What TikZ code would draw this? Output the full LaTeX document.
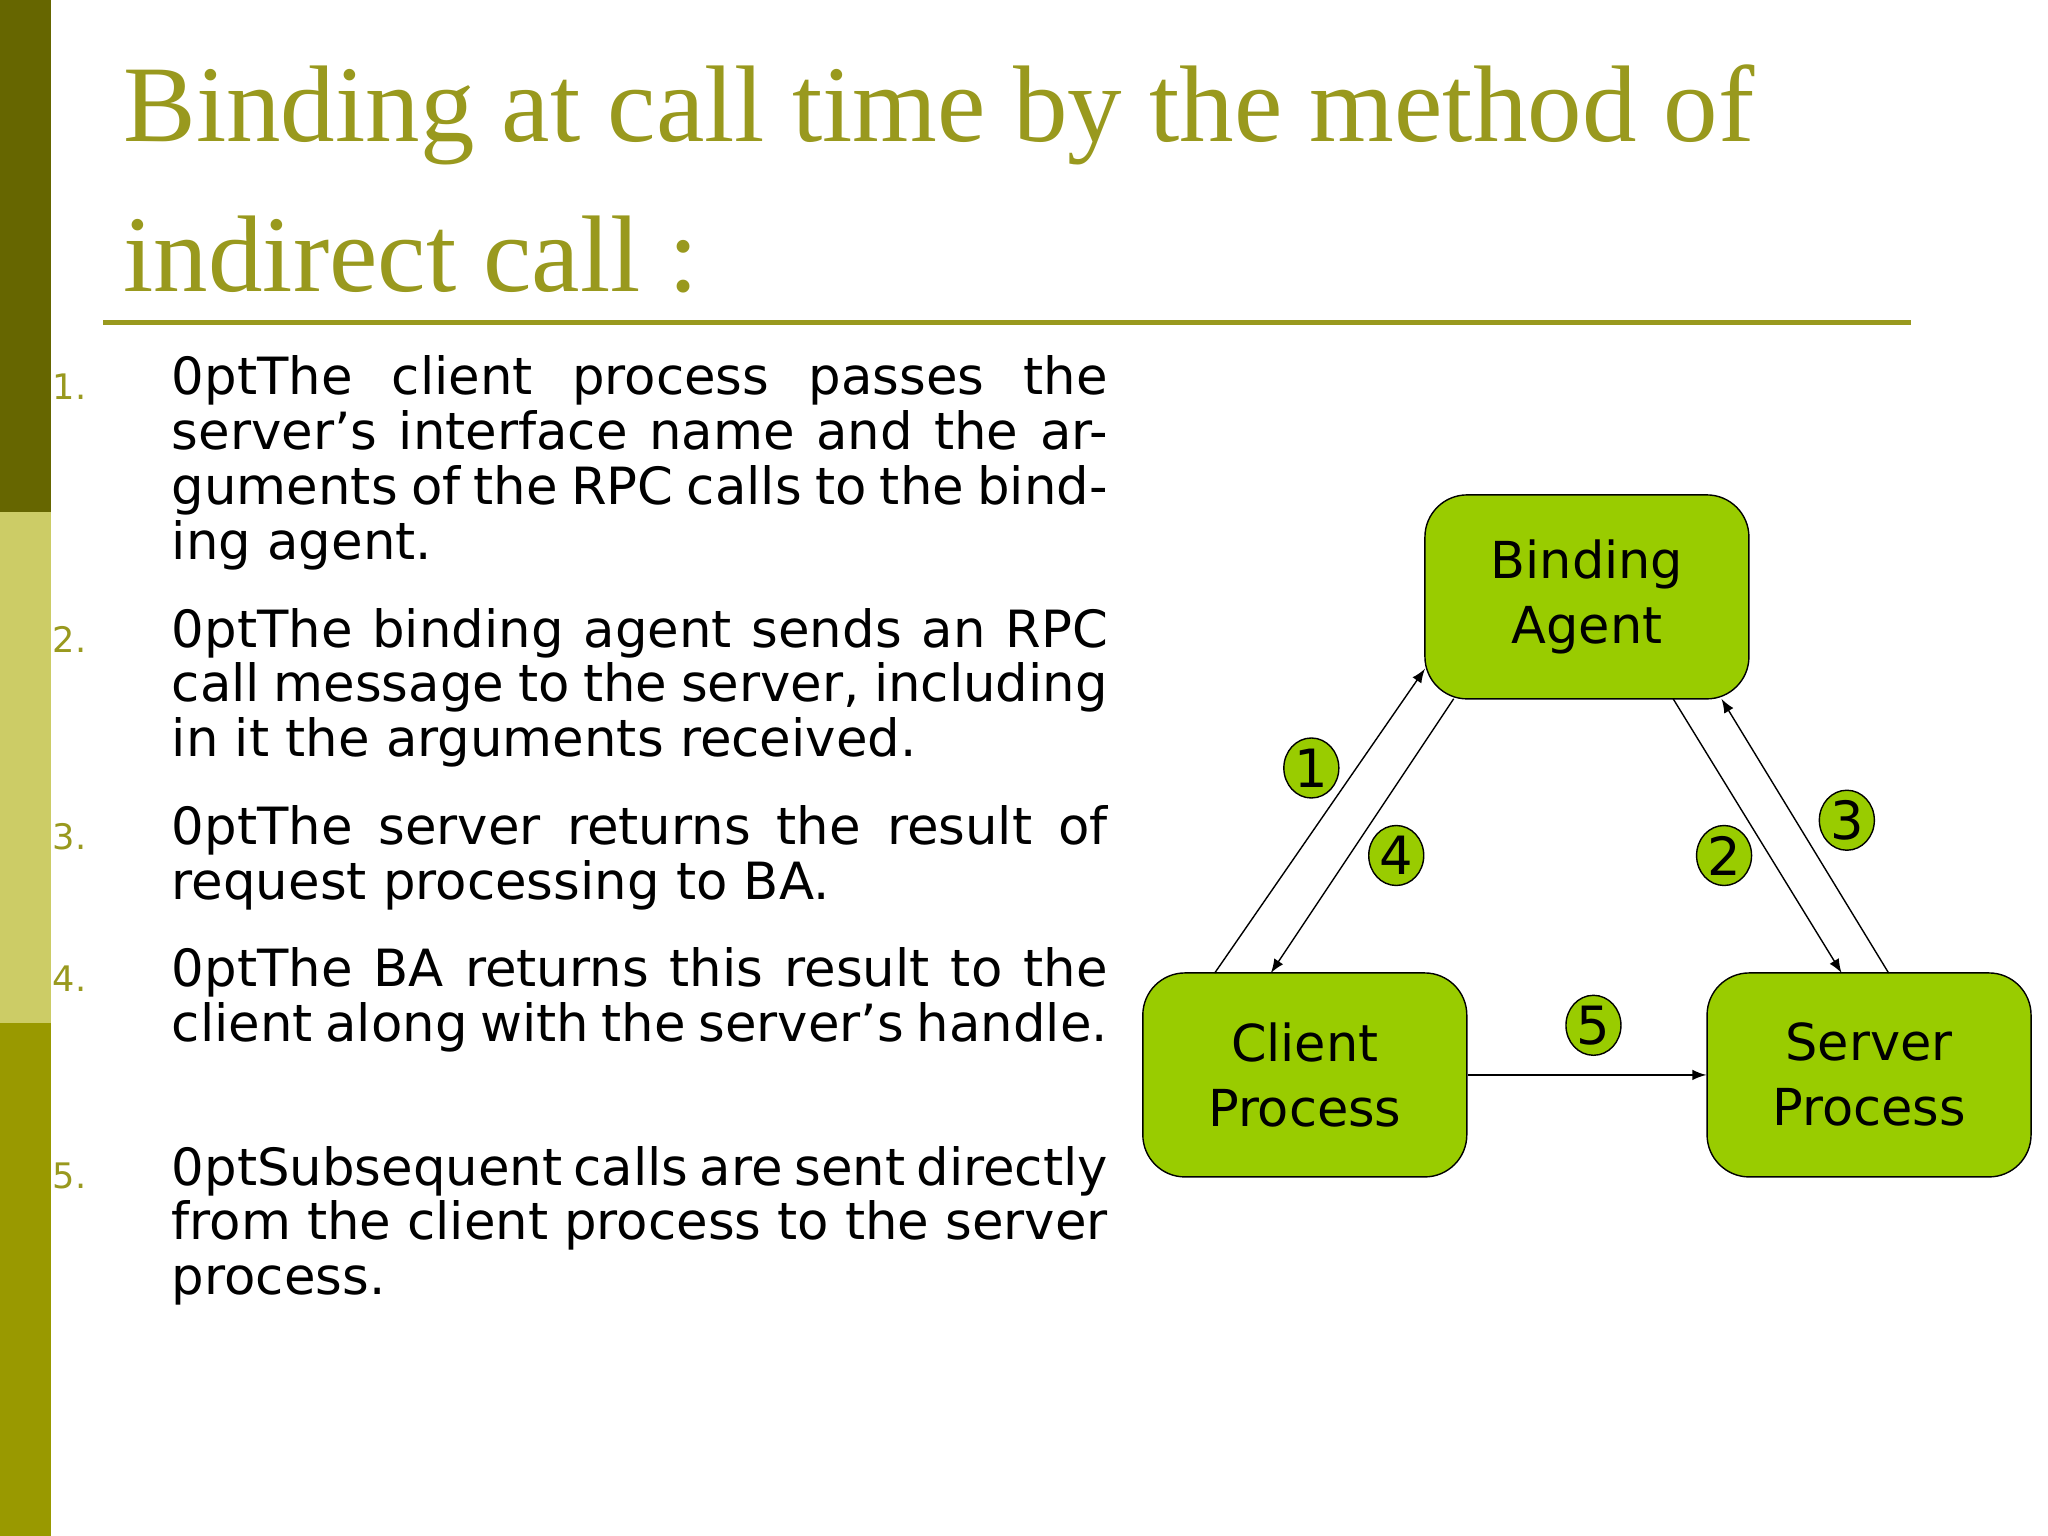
\documentclass[tikz,border=0pt]{standalone}
\usepackage{fontspec}
\usetikzlibrary{shapes.geometric}
\setmainfont{DejaVu Sans}
\newfontfamily\titlefont{Liberation Serif}
\begin{document}
\begin{tikzpicture}[x=0.01306cm,y=-0.01306cm,
  box/.style={draw,fill=boxgreen,rounded corners=12pt,minimum width=3.24cm,minimum height=2.04cm,align=center,font=\fontsize{14.5}{18.5}\selectfont},
  num/.style={draw,fill=boxgreen,ellipse,minimum width=0.55cm,minimum height=0.6cm,inner sep=0pt,font=\fontsize{15}{18}\selectfont},
  item/.style={anchor=north west,text width=9.36cm,inner sep=0pt,align=justify,font=\fontsize{14.6}{15.6}\selectfont\hyphenpenalty=10000\exhyphenpenalty=10000\emergencystretch=3cm},
  inum/.style={anchor=north west,inner sep=0pt,text=titlecol,font=\fontsize{10}{12}\selectfont},
  arr/.style={-latex}]
\definecolor{boxgreen}{RGB}{153,204,0}
\definecolor{titlecol}{RGB}{153,153,30}
\useasboundingbox (0,0) rectangle (1568,1176);
\fill[white] (0,0) rectangle (1568,1176);
\fill[fill={rgb,255:red,102;green,102;blue,0}] (0,0) rectangle (39,392);
\fill[fill={rgb,255:red,204;green,204;blue,102}] (0,392) rectangle (39,783);
\fill[fill={rgb,255:red,153;green,153;blue,0}] (0,783) rectangle (39,1176);
\node[anchor=west,text=titlecol,inner sep=0pt,font=\titlefont\fontsize{31}{38}\selectfont] (t1) at (94,88) {Binding at call time by the method of};
\node[anchor=west,text=titlecol,inner sep=0pt,font=\titlefont\fontsize{31}{38}\selectfont] (t2) at (94,195) {indirect call :};
\draw[titlecol,line width=1.5pt] (79,247) -- (1463,247);
\node[inum] (n1) at (40,286) {1.};
\node[item] (i1) at (131,272) {The client process passes the server’s interface name and the arguments of the RPC calls to the binding agent.};
\node[inum] (n2) at (40,479) {2.};
\node[item] (i2) at (131,465) {The binding agent sends an RPC call message to the server, including in it the arguments received.};
\node[inum] (n3) at (40,630) {3.};
\node[item] (i3) at (131,616) {The server returns the result of request processing to BA.};
\node[inum] (n4) at (40,739) {4.};
\node[item] (i4) at (131,725) {The BA returns this result to the client along with the server’s handle.};
\node[inum] (n5) at (40,890) {5.};
\node[item] (i5) at (131,877) {Subsequent calls are sent directly from the client process to the server process.};
\node[box] (ba) at (1215,457) {Binding\\ Agent};
\node[box] (cp) at (999,823) {Client\\ Process};
\node[box] (sp) at (1431,823) {Server\\ Process};
\coordinate (a1s) at (930,745); \coordinate (a1e) at (1091,512);
\coordinate (a4s) at (1113,535); \coordinate (a4e) at (973,745);
\coordinate (a2s) at (1281,535); \coordinate (a2e) at (1410,745);
\coordinate (a3s) at (1446,745); \coordinate (a3e) at (1318,535);
\draw[arr] (a1s) -- (a1e);
\draw[arr] (a4s) -- (a4e);
\draw[arr] (a2s) -- (a2e);
\draw[arr] (a3s) -- (a3e);
\draw[arr] (cp) -- (sp);
\node[num] (c1) at (1004,588) {1};
\node[num] (c4) at (1069,655) {4};
\node[num] (c2) at (1320,655) {2};
\node[num] (c3) at (1414,628) {3};
\node[num] (c5) at (1220,785) {5};
\end{tikzpicture}
\end{document}
